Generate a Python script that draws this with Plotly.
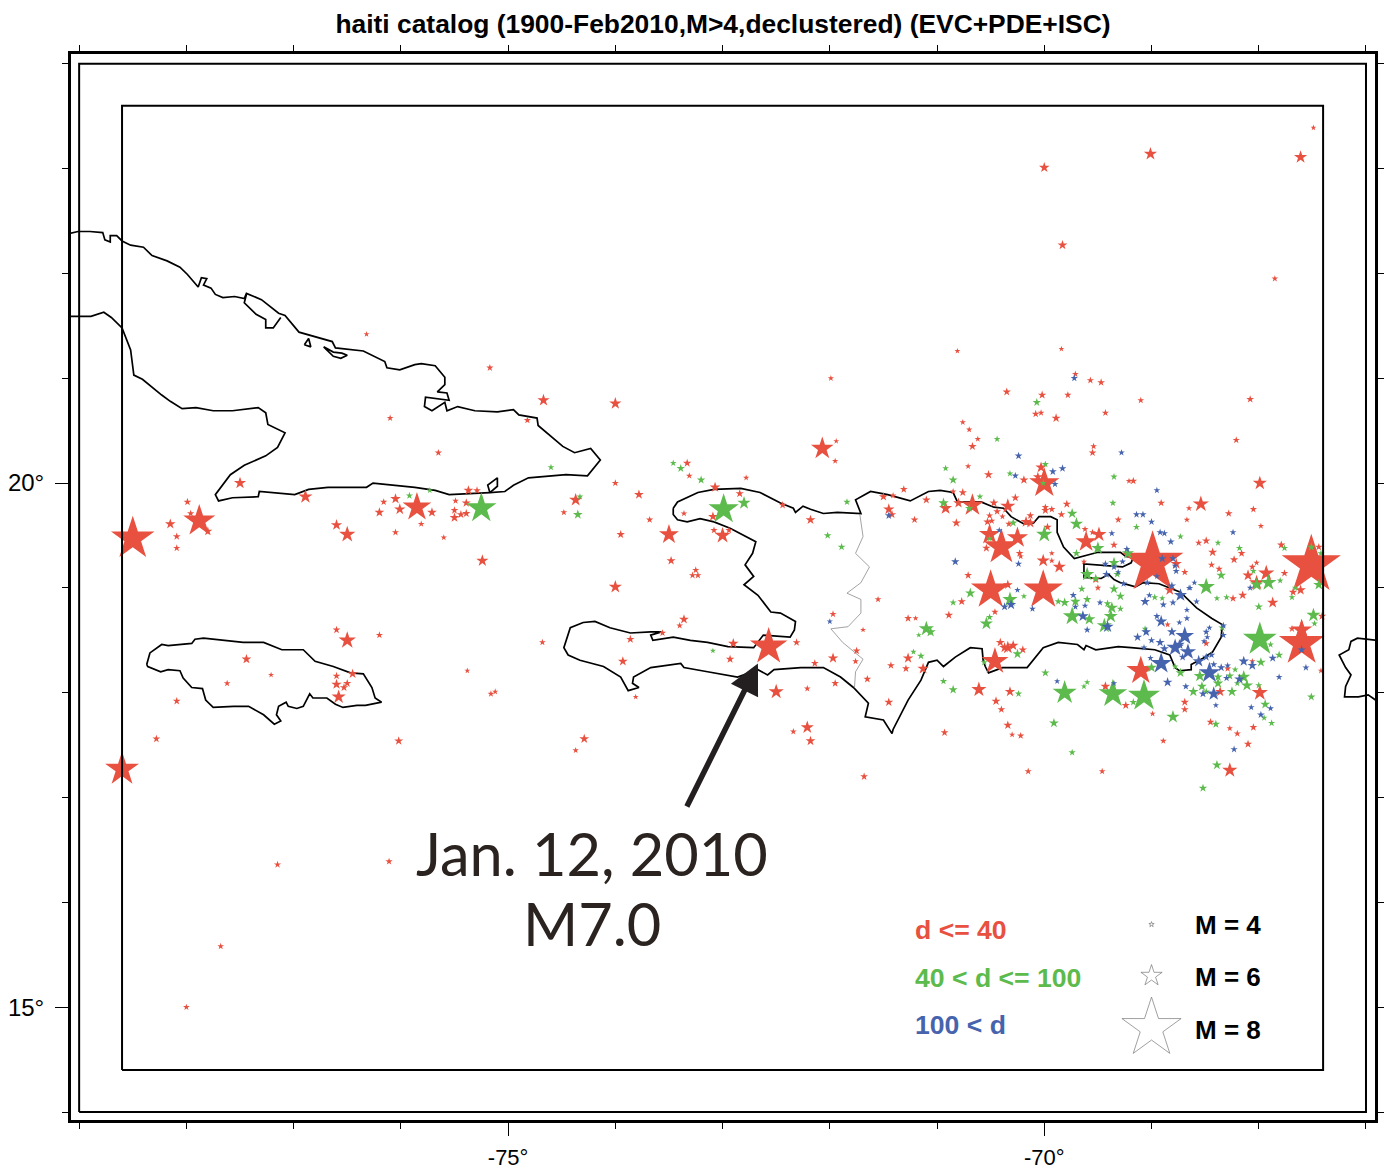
import plotly.graph_objects as go

TITLE = "haiti catalog (1900-Feb2010,M&gt;4,declustered) (EVC+PDE+ISC)"
RED = "#e8503f"
GREEN = "#5cbb4c"
BLUE = "#4664ae"
COAST = "#000000"

LON_TICKS = [-75, -70]
LAT_TICKS = [15, 20]
LON_MINOR = list(range(-79, -66))
LAT_MINOR = list(range(14, 25))
FRAME_MID = ([-79, -67, -67, -79, -79], [14, 14, 24, 24, 14])
FRAME_IN = ([-78.6, -67.4, -67.4, -78.6, -78.6], [14.4, 14.4, 23.6, 23.6, 14.4])

CUBA = [(-79.10,22.38),(-79.01,22.40),(-78.90,22.40),(-78.78,22.39),(-78.76,22.32),(-78.71,22.30),(-78.71,22.36),(-78.65,22.36),(-78.60,22.31),(-78.52,22.27),(-78.40,22.25),(-78.32,22.17),(-78.18,22.12),(-78.06,22.06),(-77.99,21.99),(-77.89,21.87),(-77.86,21.96),(-77.81,21.95),(-77.84,21.89),(-77.77,21.86),(-77.73,21.80),(-77.66,21.77),(-77.55,21.78),(-77.46,21.76),(-77.44,21.81),(-77.30,21.75),(-77.14,21.62),(-77.08,21.60),(-76.95,21.44),(-76.84,21.41),(-76.64,21.35),(-76.61,21.29),(-76.53,21.28),(-76.35,21.26),(-76.15,21.16),(-76.13,21.10),(-76.01,21.08),(-75.87,21.13),(-75.81,21.14),(-75.68,21.12),(-75.59,21.01),(-75.59,20.94),(-75.66,20.87),(-75.57,20.86),(-75.55,20.79),(-75.68,20.81),(-75.77,20.82),(-75.78,20.73),(-75.71,20.69),(-75.59,20.77),(-75.57,20.69),(-75.47,20.73),(-75.31,20.69),(-75.10,20.68),(-74.95,20.70),(-74.90,20.65),(-74.73,20.62),(-74.72,20.55),(-74.59,20.44),(-74.49,20.35),(-74.38,20.29),(-74.23,20.33),(-74.14,20.22),(-74.26,20.07),(-74.46,20.08),(-74.81,20.05),(-74.95,19.98),(-75.03,19.92),(-75.17,19.91),(-75.55,19.89),(-75.68,19.93),(-75.87,19.96),(-76.26,20.00),(-76.32,19.96),(-76.68,19.96),(-76.86,19.94),(-76.99,19.89),(-77.32,19.92),(-77.33,19.87),(-77.57,19.86),(-77.70,19.83),(-77.73,19.89),(-77.59,20.08),(-77.46,20.17),(-77.26,20.26),(-77.15,20.34),(-77.08,20.48),(-77.24,20.56),(-77.26,20.67),(-77.33,20.72),(-77.57,20.69),(-77.75,20.69),(-77.91,20.72),(-78.04,20.71),(-78.15,20.78),(-78.23,20.84),(-78.41,20.99),(-78.49,21.03),(-78.52,21.27),(-78.60,21.48),(-78.70,21.58),(-78.77,21.63),(-78.89,21.59),(-79.08,21.59),(-79.10,21.59)]
CAY_A = [(-77.44,21.80),(-77.46,21.72),(-77.35,21.61),(-77.26,21.56),(-77.26,21.48),(-77.19,21.48),(-77.12,21.58)]
CAY_B = [(-76.90,21.32),(-76.86,21.38),(-76.84,21.30),(-76.90,21.32)]
CAY_C = [(-76.72,21.30),(-76.63,21.25),(-76.55,21.24),(-76.50,21.22),(-76.56,21.19),(-76.63,21.21),(-76.72,21.30)]
CAY_D = [(-75.17,19.91),(-75.19,19.98),(-75.10,20.05),(-75.10,19.97),(-75.17,19.91)]
JAMAICA = [(-78.37,18.27),(-78.34,18.38),(-78.23,18.46),(-78.17,18.45),(-77.95,18.47),(-77.92,18.51),(-77.84,18.52),(-77.68,18.50),(-77.47,18.48),(-77.28,18.48),(-77.11,18.41),(-76.91,18.41),(-76.80,18.30),(-76.63,18.25),(-76.47,18.19),(-76.35,18.18),(-76.27,18.05),(-76.24,17.95),(-76.18,17.91),(-76.33,17.88),(-76.41,17.88),(-76.54,17.86),(-76.61,17.89),(-76.69,17.95),(-76.82,17.95),(-76.85,17.99),(-76.91,17.87),(-76.97,17.85),(-77.05,17.87),(-77.07,17.91),(-77.14,17.87),(-77.16,17.79),(-77.12,17.73),(-77.18,17.70),(-77.28,17.79),(-77.42,17.87),(-77.56,17.87),(-77.75,17.86),(-77.82,17.93),(-77.85,18.04),(-77.95,18.05),(-78.03,18.14),(-78.06,18.21),(-78.17,18.22),(-78.24,18.20),(-78.36,18.25),(-78.37,18.27)]
HISPANIOLA = [(-73.46,19.76),(-73.42,19.82),(-73.23,19.91),(-73.08,19.94),(-72.83,19.95),(-72.65,19.91),(-72.46,19.81),(-72.34,19.76),(-72.32,19.72),(-72.25,19.78),(-72.18,19.75),(-72.06,19.71),(-71.93,19.72),(-71.71,19.71),(-71.76,19.84),(-71.62,19.92),(-71.46,19.89),(-71.25,19.83),(-71.08,19.92),(-70.97,19.93),(-70.85,19.91),(-70.81,19.82),(-70.59,19.82),(-70.47,19.77),(-70.38,19.76),(-70.31,19.68),(-70.19,19.61),(-70.10,19.62),(-70.05,19.68),(-69.94,19.68),(-69.88,19.65),(-69.88,19.53),(-69.82,19.39),(-69.72,19.28),(-69.50,19.34),(-69.29,19.34),(-69.24,19.30),(-69.17,19.29),(-69.19,19.24),(-69.27,19.20),(-69.63,19.23),(-69.63,19.14),(-69.63,19.10),(-69.47,19.09),(-69.40,19.13),(-69.35,19.08),(-69.29,19.05),(-69.15,19.01),(-69.08,19.05),(-68.93,19.04),(-68.82,19.00),(-68.73,18.96),(-68.58,18.81),(-68.44,18.71),(-68.34,18.65),(-68.35,18.53),(-68.43,18.39),(-68.52,18.33),(-68.63,18.27),(-68.63,18.22),(-68.74,18.21),(-68.78,18.24),(-68.83,18.36),(-68.97,18.41),(-69.19,18.43),(-69.31,18.44),(-69.52,18.41),(-69.61,18.45),(-69.63,18.41),(-69.69,18.46),(-69.87,18.48),(-70.01,18.43),(-70.16,18.24),(-70.39,18.24),(-70.52,18.19),(-70.55,18.25),(-70.57,18.31),(-70.58,18.42),(-70.69,18.43),(-70.83,18.34),(-70.94,18.25),(-71.00,18.31),(-71.08,18.29),(-71.15,18.12),(-71.27,17.93),(-71.41,17.65),(-71.42,17.61),(-71.50,17.74),(-71.67,17.77),(-71.64,17.90),(-71.78,18.05),(-71.90,18.15),(-72.06,18.24),(-72.27,18.24),(-72.52,18.22),(-72.58,18.17),(-72.67,18.22),(-72.86,18.15),(-73.14,18.20),(-73.36,18.24),(-73.39,18.28),(-73.67,18.24),(-73.83,18.15),(-73.84,18.09),(-73.78,18.05),(-73.88,18.02),(-73.95,18.15),(-74.11,18.25),(-74.33,18.31),(-74.44,18.36),(-74.48,18.43),(-74.42,18.62),(-74.30,18.67),(-74.19,18.68),(-74.05,18.62),(-73.86,18.57),(-73.67,18.58),(-73.57,18.58),(-73.67,18.55),(-73.65,18.50),(-73.46,18.53),(-73.30,18.50),(-73.14,18.48),(-72.95,18.44),(-72.71,18.43),(-72.62,18.55),(-72.37,18.53),(-72.33,18.60),(-72.32,18.68),(-72.46,18.76),(-72.55,18.77),(-72.67,18.93),(-72.80,19.03),(-72.71,19.11),(-72.79,19.22),(-72.72,19.33),(-72.69,19.44),(-72.76,19.48),(-72.93,19.57),(-73.08,19.63),(-73.21,19.66),(-73.33,19.63),(-73.42,19.65),(-73.46,19.70),(-73.46,19.76)]
PUERTO_RICO = [(-66.90,18.50),(-67.08,18.52),(-67.14,18.49),(-67.16,18.41),(-67.25,18.36),(-67.19,18.24),(-67.14,18.17),(-67.19,18.06),(-67.20,17.96),(-67.07,17.96),(-66.98,17.98),(-66.91,17.93),(-66.90,17.96)]
BORDER = [(-71.72,19.70),(-71.69,19.49),(-71.76,19.33),(-71.63,19.20),(-71.71,19.05),(-71.84,18.95),(-71.71,18.89),(-71.71,18.76),(-71.83,18.63),(-71.99,18.61),(-71.88,18.48),(-71.69,18.32),(-71.76,18.20),(-71.77,18.05)]

RED_EVENTS = [(-78.50,19.47,7.3),(-77.88,19.64,6.7),(-78.60,17.27,6.8),(-75.85,19.77,6.5),(-76.50,19.51,5.6),(-76.50,18.50,5.7),(-76.89,19.87,5.4),(-77.50,20.00,5.2),(-75.24,19.26,5.2),(-77.44,18.32,4.9),(-76.58,17.96,5.4),(-76.60,18.60,4.6),(-76.20,18.55,4.5),(-77.21,18.17,4.2),(-77.62,18.09,4.4),(-78.09,17.92,4.6),(-78.28,17.56,4.6),(-76.60,18.08,5.0),(-76.60,18.16,4.6),(-76.50,18.09,4.7),(-76.53,18.05,4.7),(-76.45,18.18,4.9),(-76.02,17.54,4.8),(-76.32,21.42,4.2),(-75.17,21.10,4.5),(-74.67,20.79,5.2),(-74.00,20.76,5.2),(-76.10,20.62,4.4),(-75.65,20.29,4.5),(-76.16,19.82,4.5),(-76.05,19.85,5.0),(-76.01,19.75,5.1),(-75.71,19.72,4.9),(-75.81,19.61,4.4),(-76.20,19.72,4.9),(-76.05,19.53,4.5),(-75.37,19.93,4.9),(-75.29,19.93,4.6),(-75.39,19.81,4.8),(-75.49,19.83,4.4),(-75.50,19.74,4.6),(-75.50,19.67,4.9),(-75.44,19.70,4.7),(-75.39,19.71,4.7),(-75.60,19.48,4.3),(-74.37,19.84,5.3),(-74.48,19.72,4.4),(-74.82,20.60,4.5),(-76.60,19.60,5.1),(-77.99,19.82,4.6),(-78.15,19.61,5.0),(-77.96,19.71,4.5),(-77.80,19.54,4.8),(-78.09,19.49,4.6),(-78.09,19.38,4.5),(-77.15,16.36,4.5),(-76.11,16.39,4.5),(-77.68,15.58,4.4),(-78.00,15.00,4.4),(-71.68,17.20,4.6),(-75.16,17.99,4.4),(-75.12,18.01,4.3),(-75.38,18.21,4.2),
(-74.00,20.00,4.5),(-73.78,19.89,4.9),(-73.68,19.65,4.5),(-73.95,19.51,4.7),(-73.50,19.51,5.9),(-73.48,19.26,4.8),(-73.25,19.17,4.5),(-73.28,19.12,4.5),(-73.23,19.12,4.5),(-74.00,19.01,5.3),(-73.36,18.70,4.9),(-73.40,18.64,4.4),(-74.68,18.48,4.4),(-73.86,18.51,4.7),(-73.56,18.57,4.5),(-73.93,18.30,4.9),(-72.93,18.32,4.7),(-72.90,18.47,5.0),(-72.57,18.44,7.0),(-72.31,18.48,4.6),(-72.50,18.01,5.5),(-72.21,18.04,4.4),(-72.14,18.28,4.6),(-71.97,18.33,5.0),(-71.75,18.40,4.6),(-71.76,18.30,4.4),(-71.95,18.09,4.6),(-71.65,18.13,4.6),(-73.81,17.96,4.2),(-74.29,17.56,4.9),(-74.37,17.45,4.3),(-72.21,17.67,5.3),(-72.34,17.63,4.4),(-72.18,17.54,4.9),(-73.33,20.19,4.7),(-73.31,20.07,4.4),(-72.78,20.05,4.3),(-73.07,19.96,5.0),(-72.84,19.90,4.7),(-73.36,19.71,4.4),(-73.09,19.68,4.9),(-73.08,19.55,4.5),(-72.94,19.55,4.5),(-73.00,19.50,5.6),(-72.44,19.79,4.6),(-72.18,19.65,4.9),(-72.07,20.33,6.1),(-71.95,20.21,4.3),(-71.94,20.40,4.2),(-71.55,18.89,4.4),(-71.97,18.75,4.5),(-71.69,18.60,4.2),(-71.50,19.87,4.8),(-71.41,19.88,4.4),(-71.31,19.94,4.6),(-71.10,19.84,4.7),(-71.45,19.75,5.1),(-71.42,19.70,4.7),(-71.21,19.65,4.6),(-71.27,18.71,4.6),(-71.20,18.71,4.2),(-71.27,18.33,5.0),(-71.43,18.26,4.6),(-71.29,18.23,4.6),(-71.13,18.23,5.1),(-71.45,17.91,4.8),
(-69.71,21.04,4.4),(-69.57,20.98,4.5),(-69.47,20.96,4.6),(-70.35,20.87,4.7),(-70.02,20.84,4.7),(-69.78,20.84,4.5),(-69.43,20.67,4.5),(-70.08,20.66,4.6),(-70.03,20.67,4.4),(-69.89,20.62,4.8),(-70.76,20.58,4.3),(-70.70,20.51,4.3),(-70.62,20.42,4.3),(-70.67,20.35,4.7),(-69.54,20.35,4.4),(-69.55,20.29,4.6),(-70.71,20.16,4.3),(-70.52,20.08,4.8),(-70.03,20.15,5.1),(-70.00,20.00,6.6),(-70.06,20.06,4.9),(-70.19,20.03,4.8),(-69.21,20.02,4.3),(-70.85,19.92,4.4),(-70.76,19.91,4.7),(-70.27,19.86,4.7),(-70.80,19.81,5.0),(-70.92,19.76,5.3),(-70.67,19.79,6.1),(-70.47,19.81,4.8),(-70.34,19.78,5.5),(-69.79,19.80,4.7),(-69.99,19.77,4.5),(-69.99,19.74,4.7),(-69.93,19.75,4.5),(-69.84,19.70,4.6),(-70.44,19.73,4.6),(-70.51,19.69,4.5),(-70.39,19.68,4.3),(-70.53,19.63,4.7),(-70.49,19.64,4.5),(-70.82,19.62,4.8),(-70.33,19.61,4.5),(-70.13,19.69,4.6),(-70.17,19.63,5.1),(-70.13,19.62,5.0),(-69.97,19.58,4.7),(-69.31,19.65,4.5),(-70.51,19.51,6.0),(-70.40,19.39,6.9),(-70.25,19.48,6.0),(-70.54,19.38,4.7),(-69.61,19.44,6.0),(-69.49,19.51,5.5),(-69.62,19.56,4.4),(-69.55,19.53,4.4),(-69.35,19.41,4.6),(-70.23,19.33,4.6),(-70.22,19.30,4.3),(-69.93,19.33,4.2),(-70.01,19.26,5.3),(-69.93,19.26,4.3),(-69.86,19.20,5.3),(-69.63,19.25,4.3),(-70.71,19.12,4.6),(-70.50,18.98,7.1),(-70.01,18.98,7.1),(-70.34,19.03,4.9),(-69.52,19.08,4.7),
(-69.10,20.79,4.4),(-68.08,20.80,4.6),(-68.21,20.41,4.5),(-67.99,20.00,5.4),(-69.17,20.02,4.6),(-68.91,19.81,4.6),(-68.54,19.80,5.6),(-68.65,19.76,4.3),(-68.67,19.65,4.3),(-68.28,19.71,4.6),(-68.05,19.75,4.5),(-67.98,19.59,4.3),(-68.56,19.43,4.5),(-68.49,19.45,4.7),(-68.43,19.34,4.8),(-68.16,19.33,4.6),(-68.23,19.27,4.7),(-68.44,19.22,4.5),(-68.37,19.18,4.5),(-68.69,19.15,4.5),(-68.77,19.23,5.1),(-67.79,19.41,4.7),(-67.51,19.22,8.0),(-67.44,19.39,4.6),(-68.99,19.24,8.1),(-67.93,19.14,5.6),(-68.10,19.12,5.1),(-68.06,19.20,4.5),(-68.02,19.24,4.3),(-67.76,19.14,4.6),(-68.02,19.05,5.5),
(-70.77,18.87,4.7),(-70.89,18.74,4.7),(-70.46,18.77,4.5),(-70.41,18.48,4.8),(-70.34,18.43,5.3),(-70.29,18.45,5.0),(-70.37,18.43,5.0),(-70.20,18.41,4.7),(-70.46,18.30,6.4),(-70.61,18.03,5.5),(-70.32,18.01,5.0),(-70.45,17.92,4.8),(-70.40,17.84,4.6),(-70.34,17.69,4.8),(-70.30,17.60,4.3),(-70.22,17.59,4.5),(-70.93,17.62,4.6),(-70.15,17.25,4.5),(-69.46,17.25,4.4),(-69.43,18.06,4.9),(-69.24,17.88,4.7),(-69.50,19.00,4.4),
(-68.83,18.98,5.1),(-68.24,18.90,4.6),(-68.15,18.93,4.8),(-67.87,18.86,5.1),(-67.61,18.98,5.0),(-67.68,18.96,4.7),(-68.85,18.65,4.3),(-68.49,18.47,4.5),(-67.41,18.73,4.7),(-69.10,18.21,6.5),(-67.60,18.47,7.4),(-67.60,18.60,6.0),(-67.69,18.61,4.5),(-68.36,18.01,5.0),(-68.29,18.23,4.5),(-68.06,18.30,4.3),(-67.99,18.00,5.6),(-68.69,17.91,4.7),(-68.69,17.84,4.6),(-68.99,17.80,4.3),(-68.45,17.72,4.6),(-68.27,17.66,4.3),(-68.20,17.61,4.5),(-68.05,17.67,4.6),(-68.10,17.51,4.7),(-68.89,17.54,4.4),(-68.27,17.26,5.5),(-67.42,18.21,4.3),
(-70.00,23.01,5.0),(-69.01,23.14,5.3),(-69.83,22.27,4.9),(-67.61,23.11,5.3),(-67.49,23.39,4.2),(-67.85,21.95,4.4),(-70.81,21.26,4.2),(-69.84,21.28,4.2),(-71.99,21.00,4.3)]

GREEN_EVENTS = [(-74.60,20.15,4.4),(-74.33,19.87,4.4),(-74.35,19.70,4.9),(-75.25,19.76,6.6),(-75.92,19.88,4.5),(-75.73,19.93,4.3),(-73.46,20.19,4.4),(-73.39,20.14,4.7),(-73.20,20.03,4.7),(-72.80,19.81,5.3),(-72.99,19.75,6.6),(-73.09,18.40,4.2),(-71.84,19.82,4.5),(-72.02,19.50,4.6),(-71.89,19.39,4.6),(-71.10,18.61,5.5),(-71.17,18.55,4.2),(-71.22,18.39,4.3),(-71.15,18.35,4.6),(-70.07,20.77,4.7),(-70.44,20.42,4.4),(-70.92,20.14,4.4),(-70.85,20.03,4.8),(-70.32,20.09,4.4),(-69.99,20.18,4.5),(-70.01,20.00,4.4),(-70.60,19.87,4.4),(-70.94,19.81,5.0),(-70.70,19.76,4.7),(-69.35,20.06,4.5),(-69.36,19.81,4.5),(-69.74,19.71,5.0),(-69.70,19.61,5.3),(-70.00,19.51,5.6),(-70.29,19.62,4.7),(-70.51,19.47,4.3),(-69.50,19.38,5.3),(-69.70,19.33,4.7),(-69.22,19.33,5.2),(-69.35,19.24,5.1),(-69.60,19.13,5.4),(-69.52,19.09,4.8),(-69.32,19.13,4.6),(-69.14,19.58,4.5),(-68.73,19.49,4.4),(-68.38,19.43,4.4),(-68.18,19.38,4.5),(-67.76,19.38,4.5),(-67.51,19.39,4.7),(-67.42,19.33,4.5),(-68.35,19.12,4.9),(-68.49,19.01,5.7),(-68.05,19.16,4.4),(-67.91,19.05,5.6),(-67.80,19.07,4.4),(-67.44,19.03,5.1),(-68.02,19.03,5.3),(-67.66,19.00,4.4),
(-70.69,18.95,5.0),(-70.85,18.86,4.5),(-70.32,18.89,5.5),(-70.19,18.92,4.3),(-70.51,18.72,4.5),(-70.54,18.66,5.3),(-71.06,18.58,5.0),(-70.56,18.29,4.5),(-70.25,18.37,4.9),(-70.94,18.11,4.5),(-70.85,18.03,4.8),(-70.24,17.99,4.5),(-69.99,18.19,4.7),(-69.81,18.00,6.2),(-69.60,18.10,4.3),(-69.63,18.06,4.3),(-69.36,17.99,6.5),(-69.91,17.71,4.9),(-69.74,17.43,4.5),(-69.65,18.99,4.6),(-69.87,18.87,4.5),(-69.81,18.86,4.9),(-69.71,18.87,5.0),(-69.60,18.89,4.7),(-69.74,18.73,5.8),(-69.58,18.70,5.2),(-69.35,18.99,4.9),(-69.29,18.92,4.8),(-69.41,18.85,4.6),(-69.37,18.81,5.2),(-69.38,18.73,5.4),(-69.29,18.80,4.5),(-69.44,18.64,5.5),(-68.97,18.91,4.5),(-68.90,18.90,4.3),(-68.39,18.90,4.3),(-68.30,18.91,4.4),(-68.00,18.82,4.7),(-67.69,18.91,4.4),(-67.49,18.74,5.4),(-67.48,18.66,4.4),(-68.34,18.62,4.6),(-69.06,18.61,4.4),(-67.99,18.51,6.8),(-67.89,18.46,4.4),(-67.81,18.36,4.7),(-67.98,18.29,4.9),(-69.00,18.24,5.0),(-68.78,18.25,4.4),(-68.73,18.19,4.9),(-68.55,18.16,5.2),(-68.61,18.01,5.0),(-68.53,18.06,4.9),(-68.49,18.01,4.5),(-68.38,18.09,5.0),(-68.38,18.15,4.8),(-68.27,18.16,4.7),(-68.22,18.22,4.4),(-68.14,18.15,5.3),(-68.11,18.07,5.2),(-68.20,18.09,4.4),(-68.25,18.01,5.0),(-68.00,18.07,4.5),(-67.94,17.89,4.9),(-67.95,17.76,4.4),(-67.88,17.71,4.5),(-67.51,17.96,4.7),(-69.07,17.97,6.7),(-69.17,17.91,4.6),(-68.80,17.77,5.3),(-68.40,17.70,4.7),(-68.39,17.31,4.9),(-68.52,17.09,4.7)]

BLUE_EVENTS = [(-71.45,19.69,4.6),(-72.00,18.68,4.3),(-69.72,21.00,4.5),(-70.24,20.26,4.6),(-69.28,20.29,4.4),(-69.83,20.14,4.6),(-69.92,20.11,4.6),(-70.27,20.07,4.5),(-69.90,19.99,4.5),(-70.42,19.55,4.4),(-69.37,19.52,4.4),(-69.23,19.37,4.5),(-70.83,19.25,4.7),(-70.24,19.23,4.5),(-69.43,19.23,4.5),(-69.35,19.20,4.5),(-69.27,19.25,4.4),(-69.42,19.13,4.7),(-69.31,19.15,4.3),(-69.26,19.04,4.5),(-68.95,19.93,4.4),(-69.14,19.70,4.5),(-69.08,19.70,4.5),(-69.00,19.63,4.5),(-68.92,19.53,4.5),(-68.88,19.52,4.5),(-68.82,19.44,4.6),(-68.24,19.53,4.4),(-68.90,19.28,4.7),(-68.80,19.28,4.6),(-68.78,19.21,4.4),(-68.77,19.16,4.5),(-68.95,19.11,4.3),(-69.04,19.05,4.5),(-68.81,19.02,4.7),(-68.60,19.05,4.3),(-68.65,19.00,4.3),(-68.08,19.00,4.4),(-70.25,18.98,4.3),(-70.37,18.82,4.7),(-70.31,18.84,5.0),(-70.11,18.80,4.4),(-69.88,18.11,4.3),(-69.73,18.93,4.5),(-69.71,18.82,4.4),(-69.62,18.83,4.4),(-69.48,18.86,4.4),(-69.64,18.73,5.1),(-69.60,18.60,4.5),(-69.41,18.63,5.2),(-69.35,18.09,4.3),
(-69.06,18.87,4.9),(-69.02,18.93,4.4),(-68.89,18.84,4.5),(-68.80,18.86,4.5),(-68.73,18.93,5.3),(-68.58,18.87,4.4),(-68.64,19.00,4.3),(-68.67,18.79,4.3),(-68.67,18.71,4.4),(-68.95,18.73,4.5),(-68.91,18.68,5.2),(-68.74,18.67,4.3),(-68.81,18.58,4.9),(-68.69,18.54,5.8),(-69.13,18.53,4.8),(-69.05,18.58,4.9),(-69.00,18.50,4.5),(-68.92,18.48,4.8),(-68.88,18.42,4.8),(-68.78,18.43,5.7),(-68.74,18.46,5.0),(-68.66,18.39,5.6),(-68.71,18.34,4.6),(-69.07,18.43,4.4),(-69.01,18.33,4.3),(-68.91,18.28,6.0),(-68.85,18.10,4.9),(-68.68,18.06,4.5),(-68.56,18.30,5.2),(-68.49,18.58,4.5),(-68.46,18.62,4.3),(-68.48,18.53,4.3),(-68.51,18.49,4.3),(-68.49,18.34,4.7),(-68.44,18.36,4.5),(-68.33,18.64,4.5),(-68.33,18.55,4.5),(-68.46,18.19,6.0),(-68.42,18.27,4.5),(-68.35,18.24,4.7),(-68.29,18.26,4.4),(-68.30,18.14,4.5),(-68.18,18.13,5.0),(-68.14,18.30,5.0),(-68.06,18.26,4.9),(-67.87,18.33,4.7),(-67.81,18.15,4.4),(-68.52,17.99,4.7),(-68.42,17.99,5.4),(-68.40,17.88,4.3),(-68.07,17.86,4.4),(-67.89,17.85,4.4),(-67.98,17.79,4.6),(-68.23,17.46,4.5),(-67.60,18.41,4.7),(-67.56,18.24,4.5)]

KEY_MAG = [4, 6, 8]
KEY_LON = [-69.0, -69.0, -69.0]
KEY_LAT = [15.79, 15.30, 14.80]
KEY_LABELS = ["M = 4", "M = 6", "M = 8"]
KEY_LABEL_LAT = [15.78, 15.29, 14.78]
DEPTH_LABELS = ["d &lt;= 40", "40 &lt; d &lt;= 100", "100 &lt; d"]
DEPTH_LAT = [15.74, 15.28, 14.83]


def msize(m):
    d = m - 4
    return 4 + 1.875 * d + 2.06 * d * d


fig = go.Figure()


def frame(xy, w):
    fig.add_trace(go.Scatter(x=xy[0], y=xy[1], mode="lines", xaxis="x2", yaxis="y2",
                             line=dict(color="#000", width=w), hoverinfo="skip"))


frame(FRAME_MID, 2)
frame(FRAME_IN, 2)


def coast(pts, color=COAST, w=1.7):
    fig.add_trace(go.Scatter(x=[p[0] for p in pts], y=[p[1] for p in pts], mode="lines",
                             line=dict(color=color, width=w), hoverinfo="skip"))


for poly in [CUBA, CAY_A, CAY_B, CAY_C, CAY_D, JAMAICA, HISPANIOLA, PUERTO_RICO]:
    coast(poly)
coast(BORDER, "#8c8c8c", 0.8)


def stars(events, color):
    ev = sorted(events, key=lambda e: -e[2])
    fig.add_trace(go.Scatter(x=[e[0] for e in ev], y=[e[1] for e in ev], mode="markers",
                             marker=dict(symbol="star", color=color, size=[msize(e[2]) for e in ev],
                                         opacity=1, line=dict(width=0))))


stars(RED_EVENTS, RED)
stars(GREEN_EVENTS, GREEN)
stars(BLUE_EVENTS, BLUE)

fig.add_trace(go.Scatter(x=KEY_LON, y=KEY_LAT, mode="markers",
                         marker=dict(symbol="star-open", color="#777", size=[msize(m) for m in KEY_MAG],
                                     opacity=1, line=dict(width=0.7, color="#777"))))

ann = []
for txt, lat, col in zip(DEPTH_LABELS, DEPTH_LAT, [RED, GREEN, BLUE]):
    ann.append(dict(x=-71.22, y=lat, text=f"<b>{txt}</b>", showarrow=False, xanchor="left", yanchor="middle",
                    font=dict(family="Liberation Sans", size=26.6, color=col)))
for txt, lat in zip(KEY_LABELS, KEY_LABEL_LAT):
    ann.append(dict(x=-68.61, y=lat, text=f"<b>{txt}</b>", showarrow=False, xanchor="left", yanchor="middle",
                    font=dict(family="Liberation Sans", size=26, color="#000")))
ann.append(dict(x=-74.22, y=16.47, text="Jan. 12, 2010", showarrow=False,
                font=dict(family="Lato", size=59.5, color="#2a2320", weight=400)))
ann.append(dict(x=-74.22, y=15.80, text="M7.0", showarrow=False,
                font=dict(family="Lato", size=59.5, color="#2a2320", weight=400)))
ann.append(dict(x=-72.67, y=18.28, ax=-73.34, ay=16.90, axref="x", ayref="y", xref="x", yref="y", text="",
                showarrow=True, arrowhead=2, arrowsize=1.1, arrowwidth=5.5, arrowcolor="#231f20"))

XR = [-79.076, -66.916]
YR = [13.924, 24.0935]
AXLINE = dict(showgrid=False, zeroline=False, showline=True, linecolor="#000", linewidth=3, automargin=False)
TICK = dict(ticks="outside", tickwidth=1, tickcolor="#000")
MINOR = dict(tickmode="array", ticks="outside", ticklen=6, tickwidth=1, tickcolor="#000", showgrid=False)
fig.update_layout(
    width=1385, height=1169, autosize=False,
    margin=dict(l=71, r=10, t=54, b=49, pad=0),
    plot_bgcolor="white", paper_bgcolor="white", showlegend=False,
    title=dict(text=f"<b>{TITLE}</b>", x=0.5, xanchor="center", xref="paper", y=1 - 24 / 1169,
               yanchor="middle", font=dict(family="Liberation Sans", size=26.4, color="#000")),
    annotations=ann,
    xaxis=dict(range=XR, tickmode="array", tickvals=LON_TICKS, ticktext=[f"{v}°" for v in LON_TICKS],
               ticklen=13, tickfont=dict(family="Liberation Sans", size=22, color="#000"), ticklabelstandoff=3,
               minor=dict(tickvals=LON_MINOR, **MINOR), **TICK, **AXLINE),
    yaxis=dict(range=YR, tickmode="array", tickvals=LAT_TICKS, ticktext=[f"{v}°" for v in LAT_TICKS],
               ticklen=13, tickfont=dict(family="Liberation Sans", size=24, color="#000"), ticklabelstandoff=6,
               minor=dict(tickvals=LAT_MINOR, **MINOR), **TICK, **AXLINE),
    xaxis2=dict(range=XR, overlaying="x", side="top", anchor="y2", tickmode="array", tickvals=LON_MINOR,
                showticklabels=False, ticklen=6, **TICK, **AXLINE),
    yaxis2=dict(range=YR, overlaying="y", side="right", anchor="x2", tickmode="array", tickvals=LAT_MINOR,
                showticklabels=False, ticklen=6, **TICK, **AXLINE),
)
fig.write_html("out.html", config={"displayModeBar": False},
               post_script="document.body.style.margin='0';document.documentElement.style.overflow='hidden';")
